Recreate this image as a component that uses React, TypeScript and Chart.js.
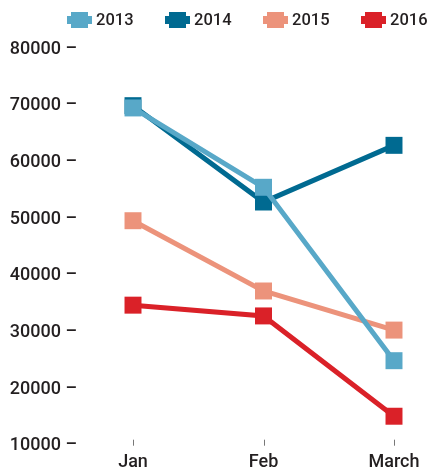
import React, { useEffect, useRef } from "react";
import { Chart, registerables } from "chart.js";

Chart.register(...registerables);

const categories = ["Jan", "Feb", "March"];
const seriesNames = ["2013", "2014", "2015", "2016"];
const values2013 = [69600, 55600, 25000];
const values2014 = [70000, 53000, 63000];
const values2015 = [49700, 37300, 30400];
const values2016 = [34800, 32900, 15200];
const yTicks = [10000, 20000, 30000, 40000, 50000, 60000, 70000, 80000];

const colors = ["#58a8c8", "#006a91", "#ec937b", "#da2128"];
const FONT = "Roboto";
const TEXT = "#231f20";

const legendPlugin = {
  id: "customLegend",
  afterDraw(chart: any) {
    const ctx = chart.ctx;
    ctx.save();
    ctx.font = `500 16.5px ${FONT}`;
    ctx.textBaseline = "middle";
    ctx.textAlign = "left";
    const cy = 20;
    chart.data.datasets.forEach((ds: any, i: number) => {
      const x = 67 + i * 98;
      ctx.fillStyle = ds.borderColor;
      ctx.fillRect(x, cy - 4, 25, 8);
      ctx.fillRect(x + 4, cy - 8, 17, 16);
      ctx.fillStyle = TEXT;
      ctx.fillText(ds.label, x + 29, cy + 1);
    });
    ctx.restore();
  },
};

const xTickPlugin = {
  id: "xTickMarks",
  afterDraw(chart: any) {
    const ctx = chart.ctx;
    const xs = chart.scales.x;
    const bottom = chart.chartArea.bottom;
    ctx.save();
    ctx.strokeStyle = "#777";
    ctx.lineWidth = 1;
    xs.ticks.forEach((_t: any, i: number) => {
      const px = Math.round(xs.getPixelForTick(i)) + 0.5;
      ctx.beginPath();
      ctx.moveTo(px, bottom - 6);
      ctx.lineTo(px, bottom);
      ctx.stroke();
    });
    ctx.restore();
  },
};

export default function App() {
  const ref = useRef<HTMLCanvasElement>(null);
  useEffect(() => {
    document.body.style.margin = "0";
    const all = [values2013, values2014, values2015, values2016];
    const chart = new Chart(ref.current!, {
      type: "line",
      data: {
        labels: categories,
        datasets: all.map((vals, i) => ({
          label: seriesNames[i],
          data: vals,
          borderColor: colors[i],
          backgroundColor: colors[i],
          pointBackgroundColor: colors[i],
          pointBorderWidth: 0,
          pointStyle: "rect",
          pointRadius: 12,
          pointHoverRadius: 12,
          borderWidth: 5,
          tension: 0,
          fill: false,
          clip: false,
        })),
      },
      options: {
        animation: false,
        responsive: false,
        maintainAspectRatio: false,
        layout: { padding: { left: 8, right: 33, top: 49, bottom: 0 } },
        plugins: {
          legend: { display: false },
          tooltip: { enabled: false },
        },
        scales: {
          x: {
            offset: false,
            grid: { display: false, drawTicks: false },
            border: { display: false },
            ticks: {
              padding: 6,
              color: TEXT,
              font: { family: FONT, size: 18, weight: "500" },
              maxRotation: 0,
            },
            afterFit(scale: any) {
              scale.height = 22.3;
            },
          },
          y: {
            min: 10000,
            max: 80000,
            grid: { display: false, drawTicks: false },
            border: { display: false },
            afterBuildTicks(scale: any) {
              scale.ticks = yTicks.map((v) => ({ value: v }));
            },
            ticks: {
              padding: 56,
              color: TEXT,
              font: { family: FONT, size: 18, weight: "500" },
              callback: (v: any) => `${v} \u2013`,
            },
            afterFit(scale: any) {
              scale.width = 125;
              scale.paddingTop = 9;
              scale.paddingBottom = 9;
            },
          },
        },
      },
      plugins: [legendPlugin, xTickPlugin],
    });
    return () => chart.destroy();
  }, []);
  return <canvas ref={ref} width={427} height={468} style={{ display: "block" }} />;
}
